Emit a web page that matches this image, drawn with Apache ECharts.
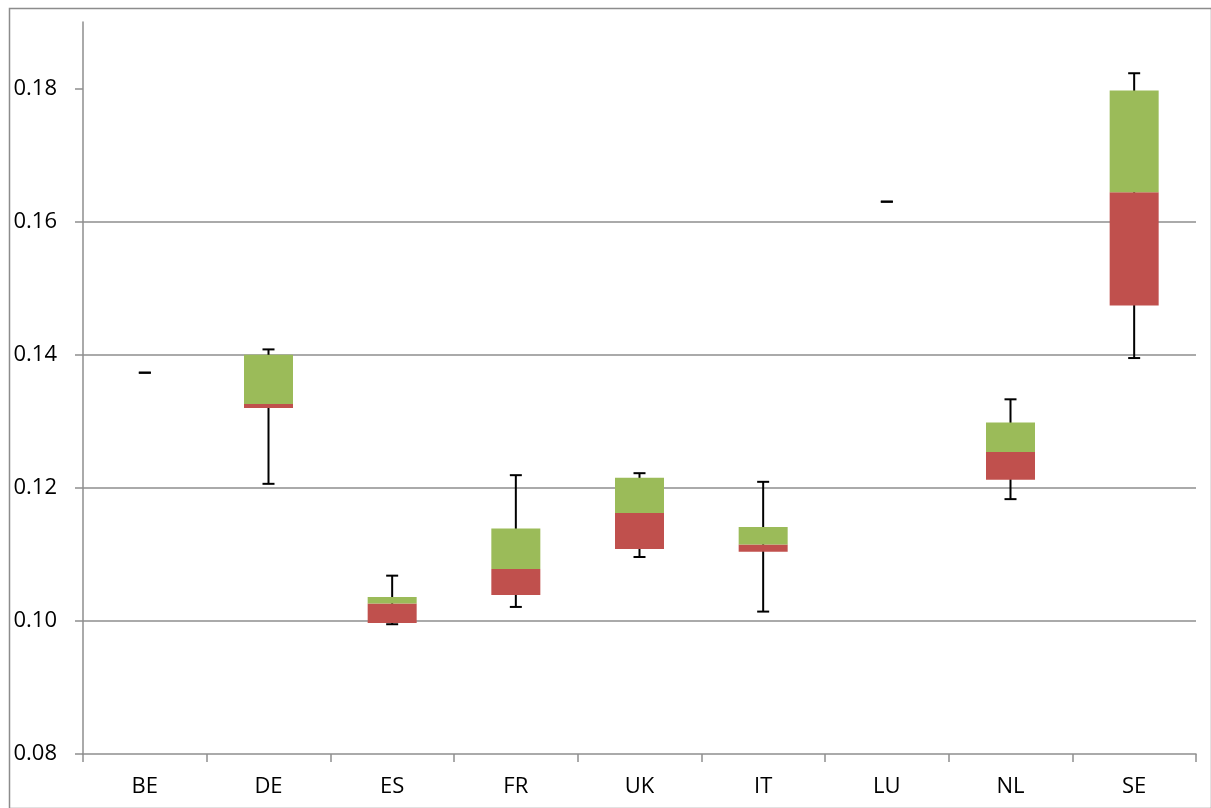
<!DOCTYPE html>
<html>
<head>
<meta charset="utf-8">
<script src="https://cdn.jsdelivr.net/npm/echarts@6/dist/echarts.min.js"></script>
<style>
html,body{margin:0;padding:0;background:#fff;}
#chart{width:1211px;height:808px;}
</style>
</head>
<body>
<div id="chart"></div>
<script>
const categories = ['BE','DE','ES','FR','UK','IT','LU','NL','SE'];
const minVals    = [0.1373, 0.1206, 0.0995, 0.1021, 0.1096, 0.1014, 0.1630, 0.1183, 0.1395];
const q1Vals     = [0.1373, 0.1320, 0.0997, 0.1039, 0.1108, 0.1104, 0.1630, 0.1212, 0.1474];
const medianVals = [0.1373, 0.1326, 0.1026, 0.1078, 0.1162, 0.1115, 0.1630, 0.1254, 0.1644];
const q3Vals     = [0.1373, 0.1400, 0.1036, 0.1139, 0.1215, 0.1141, 0.1630, 0.1298, 0.1797];
const maxVals    = [0.1373, 0.1408, 0.1068, 0.1219, 0.1222, 0.1209, 0.1630, 0.1333, 0.1823];
const yTicks     = [0.08, 0.10, 0.12, 0.14, 0.16, 0.18];

const lowerPart = q1Vals.map((q, i) => +(medianVals[i] - q).toFixed(6));
const upperPart = q3Vals.map((q, i) => +(q - medianVals[i]).toFixed(6));
const whiskerData = categories.map((c, i) => [i, minVals[i], maxVals[i]]);

const gridColor = '#8e8e8e';
const font = 'Open Sans';
const chart = echarts.init(document.getElementById('chart'));
chart.setOption({
  animation: false,
  backgroundColor: '#fff',
  graphic: [{
    type: 'rect', left: 7, top: 6,
    shape: { width: 1202, height: 800 },
    style: { fill: 'none', stroke: '#8c8c8c', lineWidth: 1.5 },
    silent: true
  }],
  grid: { left: 83, right: 15, top: 22, bottom: 54, containLabel: false },
  xAxis: {
    type: 'category',
    data: categories,
    boundaryGap: true,
    axisLine: { lineStyle: { color: gridColor, width: 1.5 } },
    axisTick: { show: true, length: 8, lineStyle: { color: gridColor, width: 1.5 } },
    axisLabel: { color: '#000', fontFamily: font, fontSize: 22, margin: 22 },
    splitLine: { show: false }
  },
  yAxis: {
    type: 'value',
    min: 0.08, max: 0.19, interval: 0.02,
    axisLine: { show: true, lineStyle: { color: gridColor, width: 1.5 } },
    axisTick: { show: true, length: 8, customValues: yTicks, lineStyle: { color: gridColor, width: 1.5 } },
    axisLabel: {
      color: '#000', fontFamily: font, fontSize: 22, margin: 26,
      customValues: yTicks,
      formatter: v => v.toFixed(2)
    },
    splitLine: { show: true, showMinLine: false, showMaxLine: false, lineStyle: { color: gridColor, width: 1.5 } }
  },
  series: [
    {
      type: 'custom',
      z: 1,
      data: whiskerData,
      renderItem: function (params, api) {
        const x = api.value(0);
        const lo = api.coord([x, api.value(1)]);
        const hi = api.coord([x, api.value(2)]);
        const half = 6;
        const st = { stroke: '#000', lineWidth: 2 };
        return {
          type: 'group',
          children: [
            { type: 'line', shape: { x1: lo[0], y1: lo[1], x2: hi[0], y2: hi[1] }, style: st },
            { type: 'line', shape: { x1: lo[0] - half, y1: lo[1], x2: lo[0] + half, y2: lo[1] }, style: st },
            { type: 'line', shape: { x1: hi[0] - half, y1: hi[1], x2: hi[0] + half, y2: hi[1] }, style: st }
          ]
        };
      }
    },
    {
      type: 'bar', stack: 'box', z: 2, barWidth: 49,
      data: q1Vals,
      itemStyle: { color: 'rgba(0,0,0,0)' },
      silent: true
    },
    {
      type: 'bar', stack: 'box', z: 2, barWidth: 49,
      data: lowerPart,
      itemStyle: { color: '#C0504D' }
    },
    {
      type: 'bar', stack: 'box', z: 2, barWidth: 49,
      data: upperPart,
      itemStyle: { color: '#9BBB59' }
    }
  ]
});
</script>
</body>
</html>
